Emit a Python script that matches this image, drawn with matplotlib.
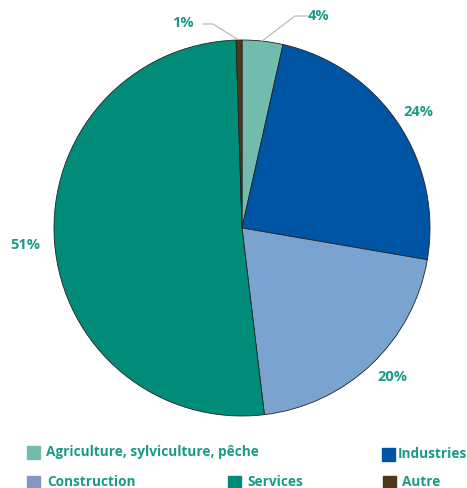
import matplotlib.pyplot as plt
from matplotlib.patches import Rectangle

labels = ["Agriculture, sylviculture, pêche", "Industries", "Construction", "Services", "Autre"]
shares = [3.5, 24.2, 20.4, 51.4, 0.5]
pct_text = ["4%", "24%", "20%", "51%", "1%"]
colors = ["#72bcae", "#0054a4", "#7ba3cf", "#008c78", "#4f3719"]
legend_colors = ["#72bcae", "#0054a4", "#8595c6", "#008c78", "#4f3719"]
txt_col = "#1a9a85"

plt.rcParams['font.family'] = ['Open Sans', 'DejaVu Sans']

W, H = 467, 488
fig = plt.figure(figsize=(W / 100, H / 100), dpi=100)
cx, cy, r = 242, 228, 188
ax = fig.add_axes([(cx - r) / W, (H - cy - r) / H, 2 * r / W, 2 * r / H])
ax.pie(shares, colors=colors, startangle=90, counterclock=False,
       wedgeprops=dict(edgecolor="#222222", linewidth=0.6))
ax.set_xlim(-1, 1)
ax.set_ylim(-1, 1)
ax.axis("off")


def px(x, y):
    # pixel coords of the picture -> data coords of the pie axes
    return (x - cx) / r, (cy - y) / r


# labels with leader lines for the two small slices
for i, (lx, ly), path in [(0, (319, 16), [(262, 41), (295, 16), (307, 16)]),
                          (4, (183, 23), [(237, 39), (213, 24), (203, 24)])]:
    xs, ys = zip(*[px(*p) for p in path])
    ax.plot(xs, ys, color="#bbbbbb", lw=0.9, clip_on=False)
    ax.text(*px(lx, ly), pct_text[i], color=txt_col, fontsize=10.5, fontweight="bold",
            ha="center", va="center", clip_on=False)

for i, (lx, ly) in [(1, (418, 112)), (2, (392, 377)), (3, (25, 245))]:
    ax.text(*px(lx, ly), pct_text[i], color=txt_col, fontsize=10.5, fontweight="bold",
            ha="center", va="center", clip_on=False)

# legend: square x, text x, row y (pixels)
leg_pos = [(27, 46, 452), (382, 398, 454), (27, 47, 482), (228, 247, 482), (383, 402, 482)]
sq = 13
for lab, col, (x, tx, y) in zip(labels, legend_colors, leg_pos):
    fig.patches.append(Rectangle((x / W, (H - y - sq / 2) / H), sq / W, sq / H,
                                 transform=fig.transFigure, color=col))
    fig.text(tx / W, (H - y) / H, lab, color=txt_col, fontsize=9.8,
             fontweight="bold", ha="left", va="center")

fig.savefig("out.png", dpi=100)
